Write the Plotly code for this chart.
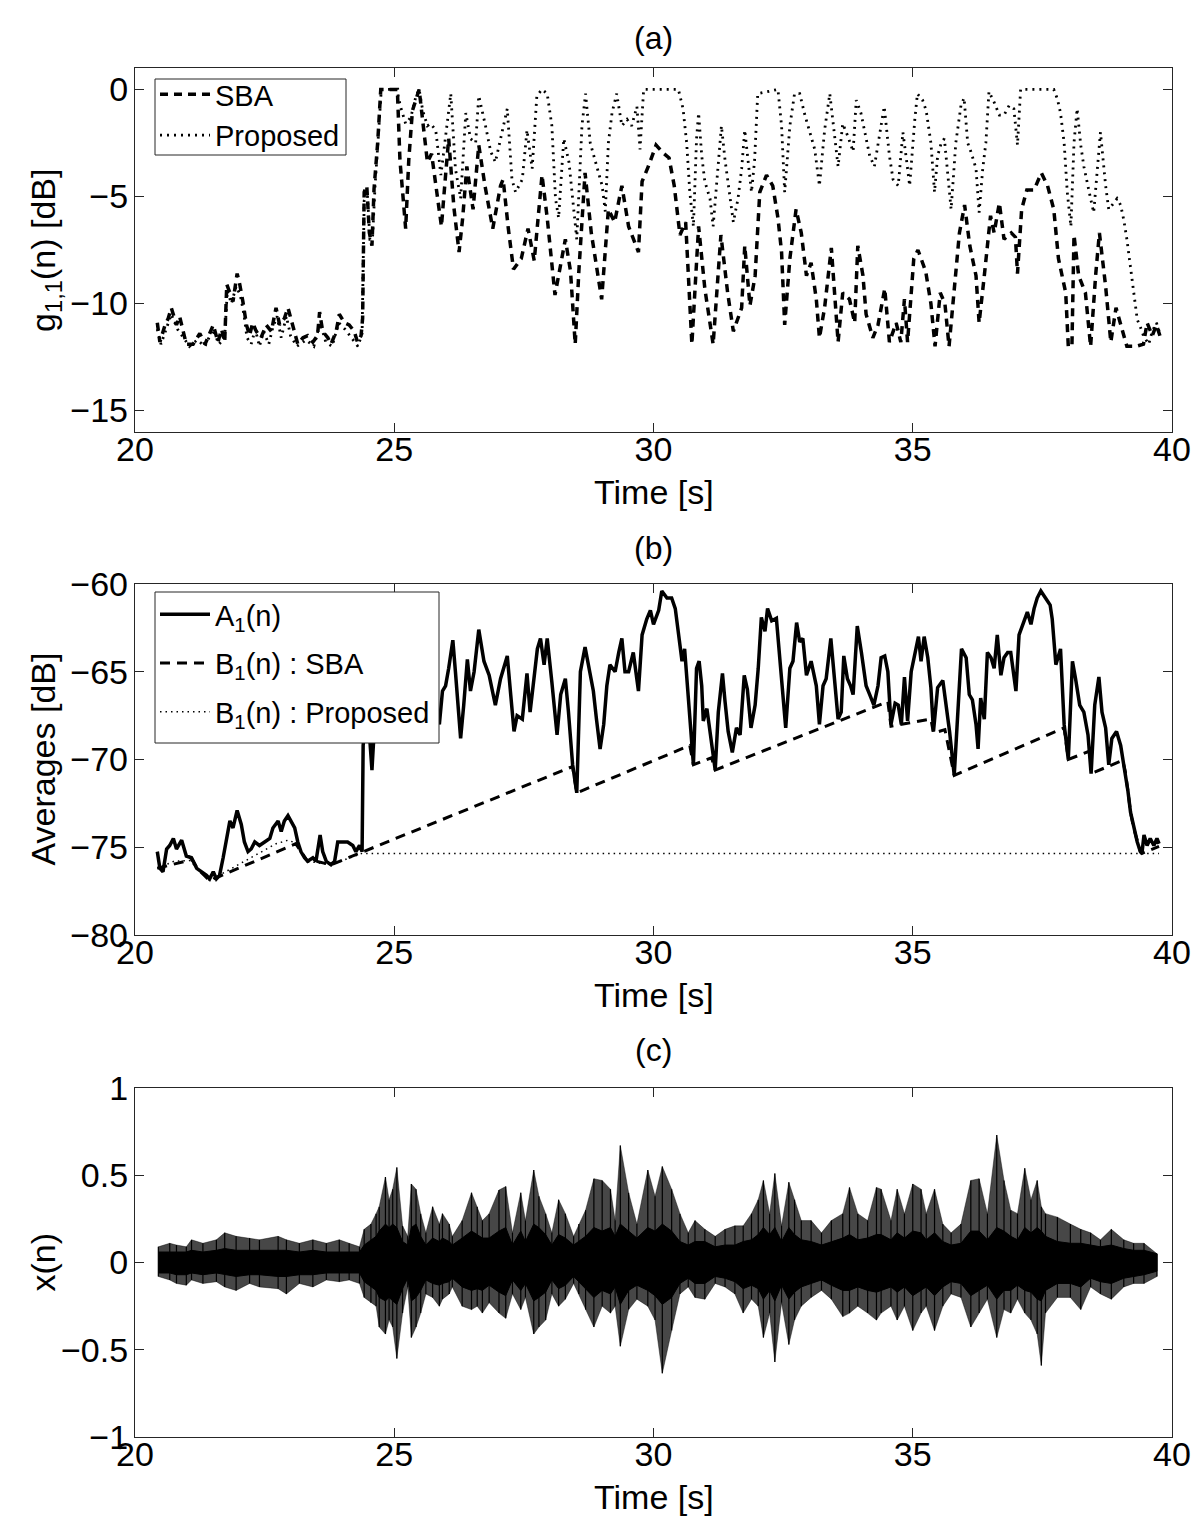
import plotly.graph_objects as go

W, H = 1200, 1520
OFF = 8  # the page body adds an 8px margin; positions below are given in picture pixels
FONT = "Liberation Sans, Arial, Helvetica, sans-serif"

# ---------------- Panel (a): g_{1,1}(n) [dB] ----------------
sba_t = [20.43, 20.48, 20.58, 20.64, 20.70, 20.80, 20.86, 20.93, 20.99, 21.12, 21.25, 21.35, 21.44, 21.51,
         21.60, 21.67, 21.73, 21.77, 21.83, 21.89, 21.97, 22.02, 22.08, 22.15, 22.21, 22.27, 22.34, 22.43,
         22.53, 22.63, 22.72, 22.79, 22.88, 22.95, 23.04, 23.14, 23.24, 23.33, 23.43, 23.52, 23.56, 23.62,
         23.72, 23.78, 23.88, 23.94, 24.04, 24.13, 24.23, 24.29, 24.36, 24.39, 24.42, 24.47, 24.52, 24.57,
         24.61, 24.68, 24.74, 25.06, 25.11, 25.16, 25.22, 25.28, 25.35, 25.48, 25.55, 25.64, 25.72, 25.84,
         25.91, 25.99, 26.05, 26.15, 26.25, 26.32, 26.40, 26.52, 26.63, 26.75, 26.90, 27.05, 27.10, 27.20,
         27.30, 27.45, 27.58, 27.70, 27.85, 27.95, 28.10, 28.30, 28.40, 28.49, 28.56, 28.68, 28.80, 29.00,
         29.13, 29.25, 29.39, 29.52, 29.71, 29.78, 29.90, 30.05, 30.20, 30.30, 30.40, 30.51, 30.62, 30.74,
         30.87, 30.99, 31.15, 31.30, 31.43, 31.54, 31.70, 31.76, 31.86, 31.96, 32.05, 32.18, 32.30, 32.40,
         32.47, 32.53, 32.63, 32.75, 32.85, 32.95, 33.04, 33.14, 33.20, 33.30, 33.43, 33.56, 33.65, 33.78,
         33.88, 33.94, 34.04, 34.10, 34.23, 34.33, 34.46, 34.55, 34.68, 34.77, 34.84, 34.90, 35.02, 35.10,
         35.25, 35.35, 35.43, 35.53, 35.62, 35.70, 35.80, 35.90, 36.00, 36.10, 36.22, 36.28, 36.38, 36.50,
         36.57, 36.67, 36.76, 36.90, 36.98, 37.02, 37.10, 37.20, 37.34, 37.48, 37.60, 37.72, 37.81, 37.95,
         38.00, 38.07, 38.11, 38.20, 38.33, 38.43, 38.53, 38.60, 38.72, 38.82, 38.92, 39.00, 39.13, 39.30,
         39.45, 39.52, 39.62, 39.70, 39.78]
sba_g = [-10.9, -11.8, -11.0, -10.7, -10.2, -11.0, -10.6, -11.3, -11.9, -11.9, -11.4, -11.9, -11.4, -11.0,
         -11.8, -11.2, -11.8, -9.1, -9.5, -9.9, -8.6, -9.1, -9.9, -11.0, -11.5, -10.9, -11.3, -11.6,
         -11.0, -11.3, -10.2, -11.0, -10.7, -10.2, -11.0, -11.9, -11.6, -11.5, -11.8, -11.5, -10.4, -11.3,
         -11.6, -11.9, -11.3, -10.5, -10.9, -11.0, -11.3, -11.8, -11.5, -10.7, -4.8, -4.5, -6.7, -7.3,
         -4.65, -2.5, 0.0, 0.0, -3.3, -4.8, -6.5, -3.3, -1.0, 0.0, -1.5, -3.4, -3.0, -5.0,
         -6.4, -4.0, -2.3, -5.5, -7.6, -6.0, -3.6, -5.6, -2.6, -4.5, -6.5, -4.5, -4.2, -6.5,
         -8.4, -7.9, -6.5, -8.0, -4.0, -6.0, -9.6, -7.0, -8.5, -11.9, -8.5, -3.9, -6.7, -9.8,
         -5.6, -6.2, -4.5, -6.4, -7.6, -4.3, -3.6, -2.6, -3.0, -3.2, -4.5, -6.8, -6.2, -11.9,
         -6.4, -9.3, -11.9, -6.8, -9.5, -11.3, -10.2, -7.3, -10.1, -8.7, -4.8, -4.0, -4.5, -6.0,
         -7.6, -11.0, -7.9, -5.6, -6.7, -8.7, -8.1, -9.8, -11.6, -10.2, -7.4, -11.8, -9.5, -9.8,
         -10.9, -7.3, -8.7, -10.5, -11.6, -11.0, -9.3, -11.8, -10.9, -11.8, -9.8, -11.8, -7.9, -7.5,
         -8.5, -10.0, -12.0, -9.5, -10.0, -12.0, -9.5, -6.7, -5.4, -7.3, -8.7, -10.9, -8.7, -5.9,
         -6.7, -5.3, -7.0, -6.7, -6.9, -8.6, -5.6, -4.7, -4.7, -3.9, -4.5, -5.6, -7.9, -9.5,
         -12.0, -12.0, -6.8, -8.7, -9.5, -12.0, -8.6, -6.7, -9.2, -11.8, -10.2, -10.9, -12.0, -12.0,
         -11.9, -10.9, -11.5, -11.0, -11.6]

prop_t = [20.43, 20.50, 20.60, 20.70, 20.82, 20.93, 21.05, 21.20, 21.35, 21.50, 21.62, 21.73, 21.78, 21.86,
          21.95, 22.03, 22.10, 22.16, 22.24, 22.32, 22.40, 22.48, 22.58, 22.66, 22.74, 22.82, 22.92, 23.00,
          23.12, 23.30, 23.45, 23.57, 23.68, 23.80, 23.93, 24.05, 24.18, 24.30, 24.38, 24.42, 24.48, 24.53,
          24.58, 24.63, 24.69, 24.75, 25.05, 25.12, 25.22, 25.32, 25.42, 25.48, 25.55, 25.64, 25.70, 25.80,
          25.90, 25.99, 26.09, 26.18, 26.28, 26.38, 26.47, 26.57, 26.63, 26.76, 26.86, 26.95, 27.08, 27.18,
          27.27, 27.34, 27.47, 27.56, 27.66, 27.75, 27.85, 27.95, 28.04, 28.11, 28.17, 28.27, 28.37, 28.46,
          28.52, 28.62, 28.69, 28.78, 28.88, 29.01, 29.07, 29.13, 29.20, 29.29, 29.39, 29.49, 29.58, 29.68,
          29.74, 29.81, 30.48, 30.57, 30.64, 30.70, 30.77, 30.83, 30.87, 30.93, 30.99, 31.09, 31.15, 31.22,
          31.31, 31.38, 31.47, 31.54, 31.63, 31.70, 31.76, 31.83, 31.89, 31.95, 32.01, 32.40, 32.47, 32.53,
          32.63, 32.72, 32.82, 32.92, 32.98, 33.11, 33.20, 33.30, 33.40, 33.49, 33.56, 33.65, 33.75, 33.85,
          33.91, 34.00, 34.10, 34.17, 34.26, 34.36, 34.45, 34.55, 34.62, 34.72, 34.81, 34.88, 34.94, 35.04,
          35.09, 35.19, 35.26, 35.35, 35.42, 35.48, 35.55, 35.61, 35.67, 35.74, 35.83, 35.93, 35.99, 36.06,
          36.12, 36.22, 36.28, 36.35, 36.41, 36.47, 36.57, 36.67, 36.76, 36.86, 36.95, 37.02, 37.08, 37.72,
          37.79, 37.85, 37.92, 37.98, 38.05, 38.11, 38.17, 38.24, 38.30, 38.37, 38.43, 38.49, 38.56, 38.62,
          38.72, 38.78, 38.88, 38.94, 39.01, 39.07, 39.13, 39.20, 39.26, 39.33, 39.39, 39.45, 39.55, 39.62,
          39.70, 39.78]
prop_g = [-11.2, -11.9, -11.2, -10.5, -11.2, -11.6, -12.0, -11.7, -12.0, -11.2, -11.9, -11.6, -9.4, -10.0,
          -9.2, -9.6, -10.5, -11.6, -11.9, -11.2, -12.0, -11.3, -11.9, -11.1, -10.6, -11.6, -10.6, -11.5,
          -12.0, -11.7, -12.0, -10.9, -11.8, -12.0, -10.9, -11.2, -11.6, -12.0, -11.4, -5.2, -4.8, -7.0,
          -7.0, -4.5, -2.3, 0.0, 0.0, -0.8, -1.6, -1.3, -0.3, 0.0, -1.0, -1.7, -1.6, -1.9,
          -4.0, -2.3, -0.2, -3.7, -5.1, -1.1, -2.3, -2.5, -0.3, -1.7, -2.9, -3.4, -2.0, -0.9,
          -4.2, -4.8, -4.2, -1.9, -3.7, -0.3, 0.0, -0.2, -1.7, -5.1, -6.0, -2.3, -3.4, -5.6,
          -7.0, -1.7, -0.2, -2.5, -3.4, -4.5, -5.7, -2.5, -1.1, -0.2, -1.7, -1.4, -1.7, -0.8,
          -2.8, 0.0, 0.0, -0.9, -2.5, -4.8, -6.4, -2.3, -1.1, -3.1, -4.3, -5.1, -6.4, -4.5,
          -1.7, -3.3, -4.8, -6.2, -5.1, -3.7, -1.9, -3.6, -4.8, -3.3, -0.2, 0.0, -1.7, -4.8,
          -1.7, -0.2, -0.2, -1.2, -1.7, -2.8, -4.5, -1.9, -0.2, -2.0, -3.6, -1.6, -2.2, -2.9,
          -0.5, -1.1, -2.3, -3.1, -3.6, -2.2, -0.8, -3.1, -4.2, -4.5, -2.0, -3.3, -4.5, -1.4,
          -0.2, -0.5, -1.0, -2.5, -4.8, -3.1, -2.5, -2.3, -3.7, -5.6, -2.5, -0.75, -0.4, -2.5,
          -2.9, -3.7, -5.75, -3.7, -2.5, -0.1, -0.6, -1.2, -1.2, -0.75, -0.9, -2.6, 0.0, 0.0,
          -0.45, -1.1, -2.5, -4.8, -6.4, -2.5, -0.9, -2.6, -3.6, -4.5, -5.1, -5.75, -3.7, -2.0,
          -4.5, -5.6, -5.3, -5.1, -5.4, -6.1, -7.0, -8.25, -9.5, -10.75, -11.1, -11.5, -11.9, -11.3,
          -10.9, -11.5]

# ---------------- Panel (b): averages [dB] ----------------
a1_t = [20.43, 20.48, 20.54, 20.61, 20.67, 20.74, 20.80, 20.90, 20.99, 21.09, 21.19, 21.28, 21.38, 21.44,
        21.51, 21.57, 21.63, 21.70, 21.76, 21.83, 21.89, 21.97, 22.05, 22.11, 22.18, 22.24, 22.31, 22.40,
        22.50, 22.60, 22.66, 22.76, 22.82, 22.88, 22.95, 23.01, 23.08, 23.14, 23.20, 23.27, 23.33, 23.43,
        23.49, 23.57, 23.62, 23.69, 23.78, 23.85, 23.91, 24.01, 24.10, 24.20, 24.26, 24.33, 24.38, 24.40,
        24.45, 24.52, 24.57, 24.62, 24.70, 24.85, 25.00, 25.15, 25.30, 25.45, 25.60, 25.75, 25.87, 25.93,
        25.99, 26.05, 26.13, 26.18, 26.25, 26.28, 26.34, 26.41, 26.47, 26.54, 26.63, 26.73, 26.83, 26.95,
        27.05, 27.18, 27.24, 27.31, 27.37, 27.47, 27.56, 27.62, 27.76, 27.82, 27.89, 27.95, 28.04, 28.14,
        28.21, 28.30, 28.36, 28.44, 28.52, 28.59, 28.68, 28.74, 28.84, 28.90, 28.97, 29.04, 29.10, 29.16,
        29.26, 29.33, 29.39, 29.45, 29.52, 29.61, 29.71, 29.78, 29.87, 29.94, 30.00, 30.10, 30.16, 30.26,
        30.35, 30.42, 30.48, 30.55, 30.60, 30.64, 30.70, 30.77, 30.83, 30.88, 30.93, 30.96, 31.03, 31.09,
        31.19, 31.25, 31.33, 31.38, 31.44, 31.52, 31.60, 31.67, 31.75, 31.81, 31.88, 31.96, 32.02, 32.08,
        32.15, 32.20, 32.28, 32.37, 32.44, 32.50, 32.55, 32.63, 32.69, 32.76, 32.82, 32.88, 32.95, 33.04,
        33.14, 33.20, 33.27, 33.33, 33.42, 33.49, 33.56, 33.62, 33.67, 33.74, 33.80, 33.85, 33.93, 34.01,
        34.10, 34.17, 34.25, 34.33, 34.39, 34.46, 34.52, 34.58, 34.66, 34.72, 34.78, 34.84, 34.90, 34.97,
        35.04, 35.11, 35.16, 35.22, 35.29, 35.35, 35.40, 35.48, 35.58, 35.64, 35.71, 35.80, 35.87, 35.94,
        36.03, 36.09, 36.15, 36.22, 36.26, 36.31, 36.38, 36.44, 36.51, 36.57, 36.63, 36.70, 36.76, 36.83,
        36.89, 36.99, 37.05, 37.15, 37.21, 37.28, 37.34, 37.40, 37.47, 37.56, 37.65, 37.69, 37.76, 37.85,
        37.92, 38.00, 38.08, 38.14, 38.22, 38.30, 38.38, 38.44, 38.51, 38.59, 38.65, 38.72, 38.78, 38.84,
        38.93, 39.01, 39.10, 39.15, 39.20, 39.26, 39.33, 39.39, 39.42, 39.46, 39.52, 39.58, 39.65, 39.71,
        39.75]
a1_v = [-75.25, -76.2, -76.4, -75.1, -74.9, -74.5, -75.1, -74.6, -75.5, -75.6, -76.2, -76.4, -76.6, -76.8,
        -76.4, -76.8, -76.6, -75.6, -74.5, -73.5, -73.9, -72.9, -73.7, -74.7, -75.25, -75.1, -74.7, -74.9,
        -74.7, -74.5, -73.9, -73.5, -74.1, -73.5, -73.2, -73.5, -73.9, -74.7, -75.25, -75.6, -75.8, -75.6,
        -75.8, -74.3, -75.25, -75.8, -76.0, -75.8, -74.7, -74.7, -74.7, -74.9, -75.25, -74.9, -75.25, -69.2,
        -67.5, -68.5, -70.6, -68.0, -66.0, -65.5, -64.0, -65.5, -63.5, -66.0, -64.5, -66.5, -68.0, -66.1,
        -65.8, -64.8, -63.2, -65.0, -68.0, -68.8, -66.9, -64.3, -66.1, -65.0, -62.6, -64.4, -65.2, -66.9,
        -65.4, -64.1, -66.1, -68.4, -67.5, -67.7, -65.1, -67.3, -63.7, -63.1, -64.6, -63.1, -65.6, -68.6,
        -66.3, -65.4, -67.3, -70.3, -71.9, -65.0, -63.6, -64.6, -66.1, -67.7, -69.4, -68.0, -65.8, -64.6,
        -65.0, -63.9, -63.1, -65.0, -65.0, -63.9, -66.1, -62.9, -62.0, -61.5, -62.3, -61.5, -60.4, -60.8,
        -60.8, -61.4, -62.9, -64.4, -63.7, -65.4, -68.0, -70.3, -64.8, -64.4, -65.8, -67.8, -67.1, -68.4,
        -70.6, -67.3, -65.1, -66.7, -68.4, -69.6, -68.2, -68.6, -65.2, -66.0, -68.2, -66.9, -64.8, -61.9,
        -62.7, -61.4, -62.1, -61.96, -64.4, -66.7, -68.2, -64.8, -64.4, -62.2, -63.3, -63.1, -65.2, -64.4,
        -65.8, -68.0, -65.8, -65.4, -63.1, -65.4, -67.7, -67.3, -64.1, -65.4, -65.8, -66.3, -62.4, -63.9,
        -65.8, -66.3, -66.9, -65.8, -64.2, -64.1, -65.0, -68.0, -66.8, -66.9, -68.0, -65.3, -67.8, -65.0,
        -63.9, -63.0, -64.4, -63.0, -64.2, -65.9, -68.4, -65.9, -65.5, -66.9, -68.4, -70.9, -67.3, -63.7,
        -64.2, -66.3, -66.6, -68.0, -69.4, -66.5, -67.7, -63.9, -64.2, -64.8, -62.9, -65.2, -64.2, -63.9,
        -63.9, -66.1, -62.9, -62.1, -61.6, -62.3, -61.4, -60.8, -60.4, -60.8, -61.2, -62.0, -64.6, -63.7,
        -68.0, -70.0, -64.4, -65.4, -66.9, -67.3, -68.6, -70.8, -66.9, -65.3, -67.3, -68.2, -70.3, -68.8,
        -68.4, -69.2, -70.7, -71.8, -73.0, -73.9, -74.7, -75.25, -75.35, -74.3, -74.9, -74.5, -74.9, -74.5,
        -74.8]

b1_sba_t = [20.43, 21.10, 21.20, 21.44, 23.10, 23.20, 23.33, 23.50, 23.78, 28.44, 28.52, 30.70, 30.77, 31.12,
            31.19, 34.52, 34.58, 35.35, 35.40, 35.62, 35.80, 37.92, 38.00, 38.43, 38.44, 39.05, 39.10, 39.15,
            39.20, 39.26, 39.33, 39.39, 39.42, 39.75]
b1_sba_v = [-76.2, -75.7, -76.2, -76.9, -74.8, -75.25, -75.8, -75.8, -76.0, -70.4, -71.9, -69.2, -70.3, -69.9,
            -70.6, -66.7, -68.1, -67.7, -68.5, -68.3, -70.9, -68.2, -70.0, -69.5, -70.8, -70.05, -70.7, -71.8,
            -73.0, -73.9, -74.7, -75.25, -75.35, -74.95]

b1_prop_t = [20.43, 20.75, 21.05, 21.20, 21.44, 22.72, 22.95, 23.14, 23.20, 23.33, 23.78, 24.38, 39.75]
b1_prop_v = [-76.2, -75.8, -75.75, -76.2, -76.9, -74.8, -74.6, -74.8, -75.25, -75.8, -76.0, -75.35, -75.35]

# ---------------- Panel (c): x(n) waveform, read as peak envelope and solid core ----------------
env_t = [20.45, 20.67, 20.80, 20.99, 21.09, 21.31, 21.57, 21.73, 21.95, 22.21, 22.40, 22.76, 22.92, 23.17,
         23.43, 23.69, 23.94, 24.13, 24.33, 24.42, 24.55, 24.65, 24.71, 24.83, 24.90, 24.97, 25.05, 25.16,
         25.26, 25.33, 25.42, 25.51, 25.61, 25.74, 25.87, 25.93, 26.06, 26.12, 26.31, 26.49, 26.60, 26.70,
         26.83, 27.02, 27.15, 27.28, 27.44, 27.53, 27.69, 27.79, 27.92, 28.04, 28.17, 28.30, 28.46, 28.56,
         28.69, 28.85, 29.01, 29.17, 29.26, 29.36, 29.52, 29.68, 29.89, 30.03, 30.17, 30.35, 30.51, 30.67,
         30.80, 30.99, 31.19, 31.38, 31.57, 31.73, 31.89, 32.02, 32.12, 32.24, 32.34, 32.47, 32.61, 32.72,
         32.85, 33.04, 33.24, 33.43, 33.65, 33.78, 33.94, 34.13, 34.30, 34.39, 34.58, 34.70, 34.84, 35.00,
         35.16, 35.26, 35.42, 35.58, 35.74, 35.93, 36.12, 36.28, 36.44, 36.62, 36.76, 36.89, 37.02, 37.16,
         37.28, 37.40, 37.48, 37.56, 37.79, 38.04, 38.24, 38.43, 38.62, 38.83, 39.07, 39.26, 39.46, 39.71]
env_up = [0.09, 0.11, 0.10, 0.09, 0.13, 0.11, 0.13, 0.17, 0.15, 0.14, 0.13, 0.15, 0.13, 0.11,
          0.13, 0.11, 0.13, 0.11, 0.09, 0.19, 0.22, 0.28, 0.32, 0.49, 0.36, 0.42, 0.545, 0.21,
          0.15, 0.45, 0.42, 0.28, 0.17, 0.32, 0.22, 0.28, 0.22, 0.15, 0.24, 0.40, 0.32, 0.24,
          0.28, 0.415, 0.435, 0.17, 0.40, 0.24, 0.53, 0.38, 0.28, 0.17, 0.36, 0.28, 0.15, 0.22,
          0.30, 0.48, 0.47, 0.42, 0.24, 0.67, 0.40, 0.22, 0.53, 0.38, 0.55, 0.42, 0.28, 0.17,
          0.24, 0.19, 0.15, 0.19, 0.21, 0.21, 0.28, 0.36, 0.47, 0.28, 0.51, 0.21, 0.46, 0.36,
          0.24, 0.24, 0.17, 0.24, 0.28, 0.43, 0.28, 0.24, 0.43, 0.42, 0.24, 0.42, 0.28, 0.45,
          0.42, 0.28, 0.42, 0.22, 0.17, 0.22, 0.47, 0.48, 0.28, 0.73, 0.47, 0.30, 0.28, 0.54,
          0.36, 0.47, 0.32, 0.28, 0.26, 0.22, 0.19, 0.17, 0.13, 0.19, 0.13, 0.11, 0.11, 0.05]
env_lo = [-0.08, -0.10, -0.12, -0.13, -0.10, -0.12, -0.11, -0.14, -0.16, -0.12, -0.14, -0.15, -0.18, -0.12,
          -0.14, -0.10, -0.11, -0.10, -0.12, -0.20, -0.23, -0.25, -0.37, -0.41, -0.33, -0.37, -0.55, -0.29,
          -0.14, -0.43, -0.37, -0.29, -0.18, -0.20, -0.25, -0.21, -0.18, -0.14, -0.25, -0.27, -0.25, -0.29,
          -0.23, -0.29, -0.32, -0.18, -0.27, -0.20, -0.41, -0.37, -0.33, -0.18, -0.25, -0.21, -0.12, -0.18,
          -0.27, -0.37, -0.25, -0.29, -0.25, -0.48, -0.27, -0.21, -0.25, -0.33, -0.635, -0.39, -0.18, -0.14,
          -0.20, -0.21, -0.12, -0.14, -0.18, -0.29, -0.21, -0.25, -0.43, -0.29, -0.57, -0.23, -0.47, -0.33,
          -0.25, -0.20, -0.16, -0.21, -0.31, -0.29, -0.25, -0.29, -0.33, -0.29, -0.25, -0.33, -0.25, -0.39,
          -0.29, -0.25, -0.39, -0.25, -0.18, -0.20, -0.37, -0.29, -0.21, -0.43, -0.27, -0.29, -0.21, -0.29,
          -0.33, -0.41, -0.59, -0.29, -0.20, -0.20, -0.27, -0.14, -0.18, -0.21, -0.14, -0.12, -0.12, -0.08]
core_up = [0.06, 0.06, 0.06, 0.06, 0.07, 0.06, 0.07, 0.08, 0.07, 0.07, 0.07, 0.07, 0.07, 0.06,
           0.07, 0.06, 0.06, 0.06, 0.06, 0.10, 0.13, 0.15, 0.18, 0.22, 0.20, 0.22, 0.20, 0.12,
           0.10, 0.20, 0.22, 0.15, 0.10, 0.14, 0.12, 0.14, 0.12, 0.10, 0.14, 0.18, 0.16, 0.14,
           0.14, 0.18, 0.20, 0.10, 0.18, 0.12, 0.22, 0.20, 0.16, 0.10, 0.16, 0.14, 0.10, 0.12,
           0.15, 0.20, 0.18, 0.20, 0.15, 0.22, 0.18, 0.14, 0.20, 0.18, 0.22, 0.18, 0.12, 0.10,
           0.12, 0.12, 0.09, 0.10, 0.10, 0.12, 0.13, 0.16, 0.20, 0.16, 0.20, 0.12, 0.20, 0.16,
           0.13, 0.12, 0.10, 0.12, 0.14, 0.16, 0.13, 0.14, 0.16, 0.16, 0.13, 0.17, 0.14, 0.18,
           0.17, 0.13, 0.17, 0.12, 0.10, 0.11, 0.18, 0.18, 0.13, 0.20, 0.18, 0.15, 0.13, 0.20,
           0.17, 0.20, 0.18, 0.15, 0.12, 0.11, 0.11, 0.10, 0.09, 0.10, 0.08, 0.07, 0.07, 0.05]
core_lo = [-0.06, -0.06, -0.07, -0.07, -0.06, -0.07, -0.06, -0.07, -0.08, -0.07, -0.07, -0.08, -0.08, -0.07,
           -0.07, -0.06, -0.06, -0.06, -0.06, -0.11, -0.14, -0.16, -0.20, -0.22, -0.20, -0.22, -0.24, -0.15,
           -0.09, -0.22, -0.20, -0.16, -0.10, -0.12, -0.13, -0.12, -0.11, -0.09, -0.14, -0.16, -0.15, -0.16,
           -0.13, -0.17, -0.19, -0.10, -0.16, -0.12, -0.22, -0.20, -0.17, -0.10, -0.15, -0.13, -0.08, -0.11,
           -0.15, -0.20, -0.16, -0.18, -0.14, -0.24, -0.16, -0.13, -0.16, -0.19, -0.24, -0.20, -0.12, -0.09,
           -0.12, -0.12, -0.08, -0.09, -0.11, -0.15, -0.13, -0.15, -0.21, -0.16, -0.22, -0.13, -0.21, -0.17,
           -0.14, -0.12, -0.10, -0.13, -0.16, -0.16, -0.14, -0.16, -0.17, -0.16, -0.14, -0.17, -0.14, -0.19,
           -0.16, -0.14, -0.19, -0.14, -0.11, -0.12, -0.19, -0.16, -0.13, -0.21, -0.16, -0.16, -0.13, -0.16,
           -0.17, -0.21, -0.22, -0.16, -0.12, -0.12, -0.14, -0.09, -0.11, -0.12, -0.09, -0.08, -0.07, -0.05]

x_ticks = [20, 25, 30, 35, 40]
ya_ticks = [-15, -10, -5, 0]
yb_ticks = [-80, -75, -70, -65, -60]
yc_ticks = [-1, -0.5, 0, 0.5, 1]

# ---------------- layout geometry (picture pixels) ----------------
X0, X1 = 135, 1172
PANELS = {"a": (68, 432), "b": (584, 935), "c": (1088, 1437)}
LEGEND_BOX = {"a": (155, 79, 346, 155), "b": (155, 592, 439, 743)}


def fy(p):
    return 1 - (p - OFF) / H


def fx(p):
    return (p - OFF) / W


fig = go.Figure()

# Panel (a)
fig.add_trace(go.Scatter(x=sba_t, y=sba_g, mode="lines", name="SBA",
                         line=dict(color="black", width=3.5, dash="8px,6px"),
                         xaxis="x", yaxis="y", legend="legend"))
fig.add_trace(go.Scatter(x=prop_t, y=prop_g, mode="lines", name="Proposed",
                         line=dict(color="black", width=2.8, dash="2px,5px"),
                         xaxis="x", yaxis="y", legend="legend"))

# Panel (b)
fig.add_trace(go.Scatter(x=a1_t, y=a1_v, mode="lines", name="A<sub>1</sub>(n)", legendgroup="a1",
                         line=dict(color="black", width=3.5),
                         xaxis="x2", yaxis="y2", legend="legend2"))
fig.add_trace(go.Scatter(x=b1_sba_t, y=b1_sba_v, mode="lines", name="B<sub>1</sub>(n) : SBA", legendgroup="b1s",
                         line=dict(color="black", width=3, dash="10px,7px"),
                         xaxis="x2", yaxis="y2", legend="legend2"))
fig.add_trace(go.Scatter(x=b1_prop_t, y=b1_prop_v, mode="lines", name="B<sub>1</sub>(n) : Proposed",
                         legendgroup="b1p",
                         line=dict(color="black", width=1.5, dash="1.5px,4px"),
                         xaxis="x2", yaxis="y2", legend="legend2"))

# Panel (c): outer envelope (dense hair region), solid core, and the peak strokes
fig.add_trace(go.Scatter(x=env_t + env_t[::-1], y=env_up + env_lo[::-1], mode="lines",
                         fill="toself", fillcolor="rgba(0,0,0,0.72)",
                         line=dict(color="rgba(0,0,0,0.7)", width=0.6),
                         xaxis="x3", yaxis="y3", showlegend=False, hoverinfo="skip"))
fig.add_trace(go.Scatter(x=env_t + env_t[::-1], y=core_up + core_lo[::-1], mode="lines",
                         fill="toself", fillcolor="black",
                         line=dict(color="black", width=1),
                         xaxis="x3", yaxis="y3", showlegend=False, hoverinfo="skip"))
stroke_x, stroke_y = [], []
for t, u, l in zip(env_t, env_up, env_lo):
    stroke_x += [t, t, None]
    stroke_y += [l, u, None]
fig.add_trace(go.Scatter(x=stroke_x, y=stroke_y, mode="lines",
                         line=dict(color="black", width=1.2),
                         xaxis="x3", yaxis="y3", showlegend=False, hoverinfo="skip"))

axis_common = dict(showline=True, linecolor="#262626", linewidth=1.3, mirror="ticks",
                   ticks="inside", ticklen=9, tickwidth=1, tickcolor="#262626",
                   showgrid=False, zeroline=False, automargin=False,
                   tickfont=dict(family=FONT, size=34, color="black"))

layout = dict(width=W, height=H, margin=dict(l=0, r=0, t=0, b=0, pad=0), autosize=False,
              paper_bgcolor="white", plot_bgcolor="white", font=dict(family=FONT, color="black"))

for i, key in enumerate(["a", "b", "c"]):
    sfx = "" if i == 0 else str(i + 1)
    top, bot = PANELS[key]
    layout["xaxis" + sfx] = dict(axis_common, domain=[fx(X0), fx(X1)], range=[20, 40],
                                 tickvals=x_ticks, anchor="y" + sfx, ticklabelstandoff=-13)
    yt = [ya_ticks, yb_ticks, yc_ticks][i]
    yr = [[-16, 1], [-80, -60], [-1, 1]][i]
    layout["yaxis" + sfx] = dict(axis_common, domain=[fy(bot), fy(top)], range=yr,
                                 tickvals=yt, anchor="x" + sfx, ticklabelstandoff=-1)

# legend frames (white boxes drawn over the curves), legends themselves borderless on top
shapes = []
for key, (lx0, ly0, lx1, ly1) in LEGEND_BOX.items():
    shapes.append(dict(type="rect", xref="paper", yref="paper", x0=fx(lx0), x1=fx(lx1),
                       y0=fy(ly1), y1=fy(ly0), fillcolor="white",
                       line=dict(color="#262626", width=1), layer="above"))
layout["shapes"] = shapes

legend_common = dict(bgcolor="rgba(0,0,0,0)", borderwidth=0,
                     font=dict(family=FONT, size=29, color="black"),
                     xanchor="left", yanchor="top", itemwidth=50)
layout["legend"] = dict(legend_common, x=fx(155), y=fy(69), tracegroupgap=0)
layout["legend2"] = dict(legend_common, x=fx(155), y=fy(589), tracegroupgap=8)

annos = []
title_y = {"a": 38, "b": 548, "c": 1050}
xlabel_y = {"a": 492, "b": 995, "c": 1497}
ylabels = {"a": "g<sub>1,1</sub>(n) [dB]", "b": "Averages [dB]", "c": "x(n)"}
ylabel_x = {"a": 45, "b": 42, "c": 42}
for key in ["a", "b", "c"]:
    top, bot = PANELS[key]
    annos.append(dict(text="(%s)" % key, x=fx((X0 + X1) / 2), y=fy(title_y[key]), xref="paper", yref="paper",
                      showarrow=False, xanchor="center", yanchor="middle",
                      font=dict(family=FONT, size=32, color="black")))
    annos.append(dict(text="Time [s]", x=fx((X0 + X1) / 2), y=fy(xlabel_y[key]), xref="paper", yref="paper",
                      showarrow=False, xanchor="center", yanchor="middle",
                      font=dict(family=FONT, size=34, color="black")))
    annos.append(dict(text=ylabels[key], x=fx(ylabel_x[key]), y=fy((top + bot) / 2), xref="paper", yref="paper",
                      showarrow=False, xanchor="center", yanchor="middle", textangle=-90,
                      font=dict(family=FONT, size=34, color="black")))
layout["annotations"] = annos

fig.update_layout(**layout)
fig.write_html("out.html")
